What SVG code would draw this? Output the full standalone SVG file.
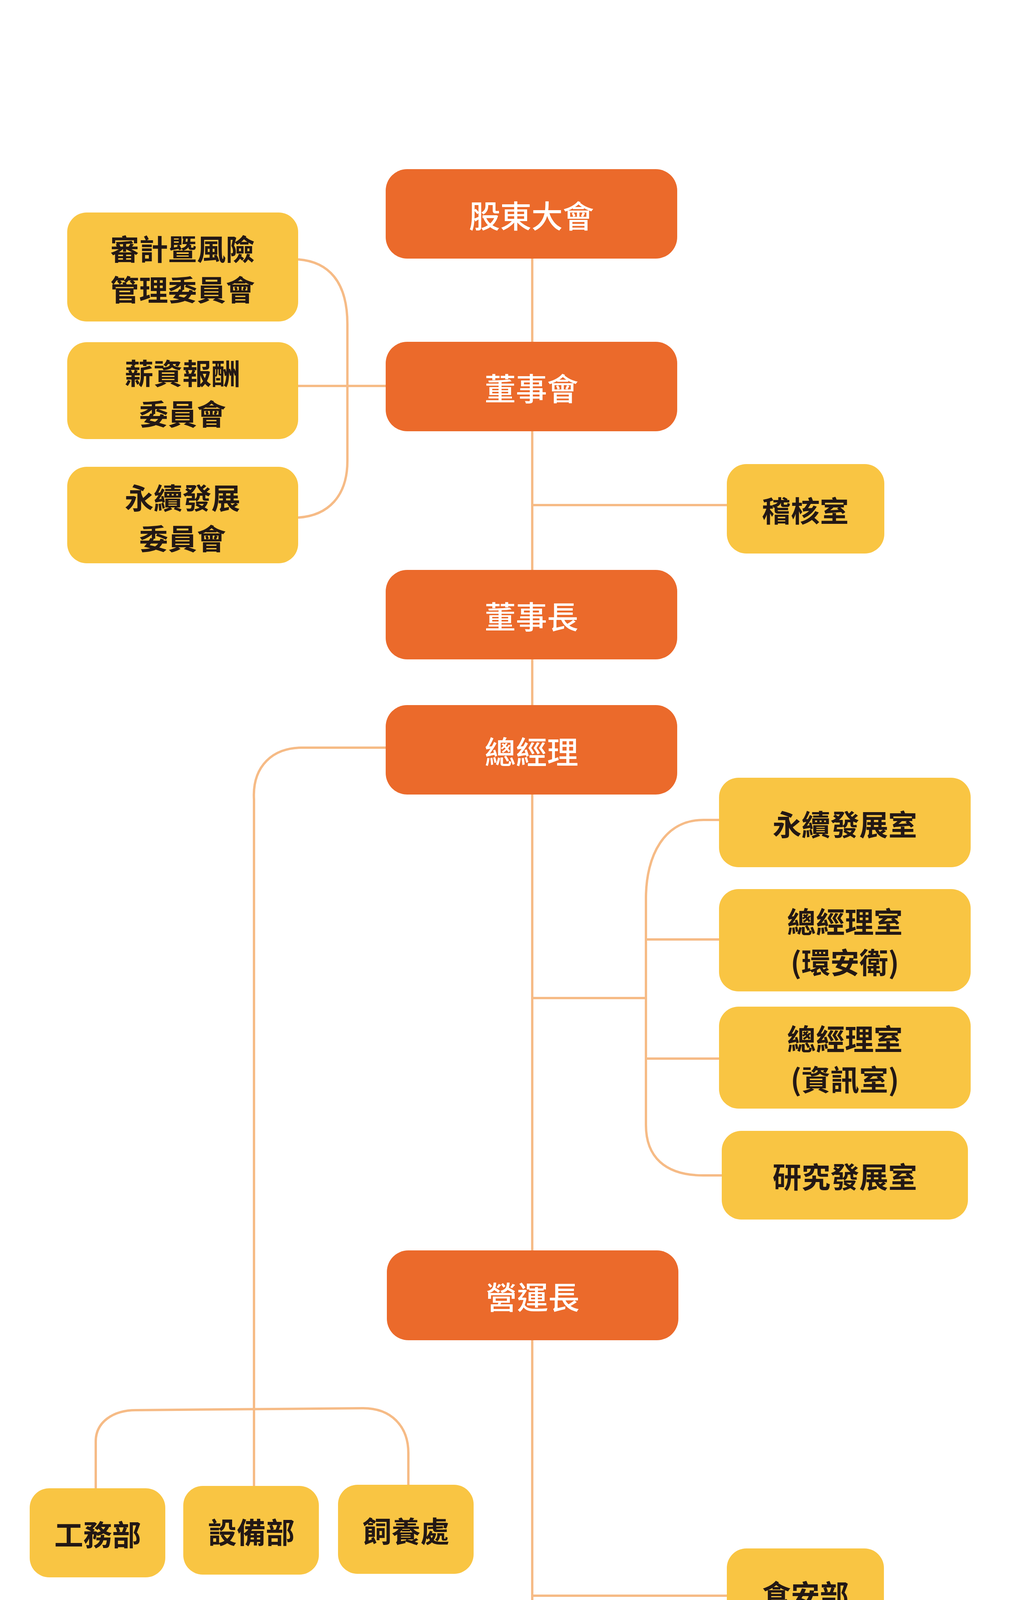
<svg xmlns="http://www.w3.org/2000/svg" width="2600" height="5754" viewBox="0 0 2600 5754">
<style>
.o{fill:#EB6A2B}.y{fill:#F9C543}
text{font-family:"Noto Sans CJK TC","Noto Sans CJK SC",sans-serif;text-anchor:middle;dominant-baseline:central}
.wt{fill:#fff;font-size:80px;font-weight:500}
.bt{fill:#231815;font-size:74px;font-weight:700}
.c{fill:none;stroke:#F6BB86;stroke-width:6}
</style>
<rect width="2600" height="5754" fill="#fff"/>
<g id="connectors" class="c">
<path d="M1362 662V4859"/>
<path d="M763 664C840 670 889 720 889 830V1180C889 1270 840 1320 763 1325"/>
<path d="M763 988H987"/>
<path d="M1362 1293H1860"/>
<path d="M987 1914H771C700 1914 645 1960 650 2047V3804"/>
<path d="M1840 2099H1800C1700 2099 1653 2190 1653 2300V2880C1653 2960 1700 3009 1800 3009H1847"/>
<path d="M1653 2405H1840M1653 2710H1840M1362 2555H1653"/>
<path d="M245 3810V3690C245 3640 290 3610 348 3610L929 3605C1000 3605 1045 3650 1045 3720V3801"/>
<path d="M1362 4085H1860"/>
<path d="M378 4859V4790C378 4710 420 4664 497 4664H2185C2260 4664 2311 4710 2311 4790V4859"/>
<path d="M875 4664V4859M1834 4664V4859"/>
</g>
<g id="n1"><rect class="o" x="987" y="433" width="746" height="229" rx="55"/><text class="wt" x="1360" y="548">股東大會</text></g>
<g id="n2"><rect class="o" x="987" y="875" width="746" height="229" rx="55"/><text class="wt" x="1360" y="990">董事會</text></g>
<g id="n3"><rect class="o" x="987" y="1459" width="746" height="229" rx="55"/><text class="wt" x="1360" y="1574">董事長</text></g>
<g id="n4"><rect class="o" x="987" y="1805" width="746" height="229" rx="55"/><text class="wt" x="1360" y="1920">總經理</text></g>
<g id="n5"><rect class="o" x="990" y="3201" width="746" height="230" rx="55"/><text class="wt" x="1363" y="3316">營運長</text></g>
<g id="a1"><rect class="y" x="172" y="544" width="591" height="279" rx="50"/><text class="bt" x="467" y="633">審計暨風險</text><text class="bt" x="467" y="737">管理委員會</text></g>
<g id="a2"><rect class="y" x="172" y="876" width="591" height="248" rx="50"/><text class="bt" x="467" y="951">薪資報酬</text><text class="bt" x="467" y="1055">委員會</text></g>
<g id="a3"><rect class="y" x="172" y="1195" width="591" height="247" rx="50"/><text class="bt" x="467" y="1270">永續發展</text><text class="bt" x="467" y="1374">委員會</text></g>
<g id="b1"><rect class="y" x="1860" y="1188" width="403" height="229" rx="50"/><text class="bt" x="2061" y="1303">稽核室</text></g>
<g id="c1"><rect class="y" x="1840" y="1991" width="644" height="229" rx="50"/><text class="bt" x="2162" y="2106">永續發展室</text></g>
<g id="c2"><rect class="y" x="1840" y="2276" width="644" height="262" rx="50"/><text class="bt" x="2162" y="2355">總經理室</text><text class="bt" x="2162" y="2459">(環安衛)</text></g>
<g id="c3"><rect class="y" x="1840" y="2577" width="644" height="261" rx="50"/><text class="bt" x="2162" y="2655">總經理室</text><text class="bt" x="2162" y="2759">(資訊室)</text></g>
<g id="c4"><rect class="y" x="1847" y="2895" width="630" height="227" rx="50"/><text class="bt" x="2162" y="3008">研究發展室</text></g>
<g id="d1"><rect class="y" x="76" y="3810" width="347" height="228" rx="50"/><text class="bt" x="250" y="3924">工務部</text></g>
<g id="d2"><rect class="y" x="469" y="3804" width="347" height="227" rx="50"/><text class="bt" x="643" y="3918">設備部</text></g>
<g id="d3"><rect class="y" x="865" y="3801" width="347" height="228" rx="50"/><text class="bt" x="1039" y="3915">飼養處</text></g>
<g id="e1"><rect class="y" x="1860" y="3964" width="402" height="228" rx="50"/><text class="bt" x="2061" y="4078">食安部</text></g>
<g id="f1"><rect class="y" x="202" y="4859" width="347" height="227" rx="50"/><text class="bt" x="376" y="4973">洗選部</text></g>
<g id="f2"><rect class="y" x="703" y="4859" width="347" height="227" rx="50"/><text class="bt" x="877" y="4973">業務部</text></g>
<g id="f3"><rect class="y" x="1190" y="4859" width="347" height="227" rx="50"/><text class="bt" x="1364" y="4973">行銷部</text></g>
<g id="f4"><rect class="y" x="1661" y="4859" width="347" height="227" rx="50"/><text class="bt" x="1835" y="4973">財會部</text></g>
<g id="f5"><rect class="y" x="2129" y="4859" width="346" height="227" rx="50"/><text class="bt" x="2302" y="4973">管理部</text></g>
</svg>
